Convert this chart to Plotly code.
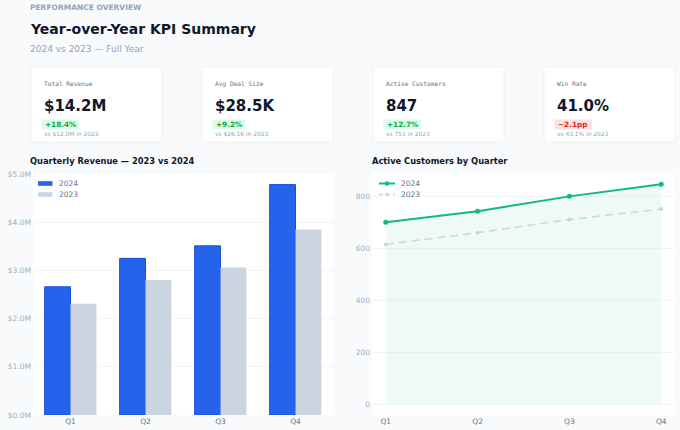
import plotly.graph_objects as go

W, H = 680, 430

quarters = ["Q1", "Q2", "Q3", "Q4"]
rev_2024 = [2.66, 3.25, 3.51, 4.78]
rev_2023 = [2.31, 2.80, 3.06, 3.85]
cust_2024 = [700, 743, 800, 847]
cust_2023 = [615, 660, 711, 751]

kpi_labels = ["Total Revenue", "Avg Deal Size", "Active Customers", "Win Rate"]
kpi_values = ["$14.2M", "$28.5K", "847", "41.0%"]
kpi_deltas = ["+18.4%", "+9.2%", "+12.7%", "\u22122.1pp"]
kpi_positive = [True, True, True, False]
kpi_prev = ["vs $12.0M in 2023", "vs $26.1K in 2023", "vs 751 in 2023", "vs 43.1% in 2023"]

series_names = ["2024", "2023"]

FONT = "DejaVu Sans"
MONO = "DejaVu Sans Mono"

BLUE = "#2563eb"
BLUE_EDGE = "#1d4ed8"
GREY = "#cbd5e1"
GREEN = "#10b981"


def px(x):
    return x / W


def py(y):
    return 1 - y / H


fig = go.Figure()

fig.add_trace(go.Bar(
    x=quarters, y=rev_2024, name=series_names[0], xaxis="x", yaxis="y",
    marker=dict(color=BLUE, line=dict(color=BLUE_EDGE, width=1)),
))
fig.add_trace(go.Bar(
    x=quarters, y=rev_2023, name=series_names[1], xaxis="x", yaxis="y",
    marker=dict(color=GREY, line=dict(color=GREY, width=0)),
))
fig.add_trace(go.Scatter(
    x=quarters, y=cust_2024, name=series_names[0], xaxis="x2", yaxis="y2",
    mode="lines+markers", line=dict(color=GREEN, width=2),
    marker=dict(size=5, color=GREEN),
    fill="tozeroy", fillcolor="rgba(16,185,129,0.07)",
))
fig.add_trace(go.Scatter(
    x=quarters, y=cust_2023, name=series_names[1], xaxis="x2", yaxis="y2",
    mode="lines+markers", line=dict(color=GREY, width=1.5, dash="8px,5px"),
    marker=dict(size=4, color=GREY),
))

tickfont = dict(family=FONT, size=7.5, color="#a0aec0")
xtickfont = dict(family=FONT, size=7.5, color="#64748b")

common_x = dict(showgrid=False, zeroline=False, showline=False, ticks="",
                automargin=False, tickfont=xtickfont, ticklabelstandoff=0)
common_y = dict(gridcolor="#f1f5f9", zeroline=False, showline=False, ticks="",
                automargin=False, tickfont=tickfont, ticklabelstandoff=1)

fig.update_layout(
    width=W, height=H,
    margin=dict(l=0, r=0, t=0, b=0),
    paper_bgcolor="#f8fafc",
    plot_bgcolor="#ffffff",
    font=dict(family=FONT),
    barmode="group", bargap=0.31, bargroupgap=0,
    showlegend=False,
    xaxis=dict(domain=[px(33), px(333)], anchor="y", range=[-0.5, 3.5], **common_x),
    yaxis=dict(domain=[py(415), py(174)], anchor="x", range=[0, 5.0],
               dtick=1, tickformat=".1f", tickprefix="$", ticksuffix="M", **common_y),
    xaxis2=dict(domain=[px(372), px(675)], anchor="y2", range=[-0.15, 3.15], **common_x),
    yaxis2=dict(domain=[py(415), py(173)], anchor="x2", range=[-42, 890],
                dtick=200, **common_y),
)

annotations = []
shapes = []


def text(t, x, y, size, color, family=FONT, anchor="left"):
    annotations.append(dict(text=t, x=px(x - 2), y=py(y), xref="paper", yref="paper",
                            xanchor=anchor, yanchor="middle", showarrow=False,
                            font=dict(family=family, size=size, color=color)))


text("<b>PERFORMANCE OVERVIEW</b>", 30, 7, 7.5, "#94a3b8")
text("<b>Year-over-Year KPI Summary</b>", 30, 29, 14, "#0f172a")
text("2024 vs 2023 \u2014 Full Year", 30, 49, 9, "#94a3b8")
text("<b>Quarterly Revenue \u2014 2023 vs 2024</b>", 30, 161, 8.3, "#0f172a")
text("<b>Active Customers by Quarter</b>", 372, 161, 8.3, "#0f172a")

# legends (drawn manually for compact spacing)
leg_y = [183.5, 194.5]
bar_cols = [BLUE, GREY]
for i in range(2):
    shapes.append(dict(type="rect", xref="paper", yref="paper",
                       x0=px(38), x1=px(52.5), y0=py(leg_y[i] + 2.3), y1=py(leg_y[i] - 2.3),
                       fillcolor=bar_cols[i], line=dict(width=0)))
    text(series_names[i], 58.5, leg_y[i], 7.5, "#64748b")
line_cols = [GREEN, GREY]
for i in range(2):
    shapes.append(dict(type="line", xref="paper", yref="paper",
                       x0=px(379), x1=px(395), y0=py(leg_y[i]), y1=py(leg_y[i]),
                       line=dict(color=line_cols[i], width=2 if i == 0 else 1.5,
                                 dash="solid" if i == 0 else "4px,3px")))
    r = 2.2 if i == 0 else 1.8
    shapes.append(dict(type="circle", xref="paper", yref="paper",
                       x0=px(387 - r), x1=px(387 + r), y0=py(leg_y[i] + r), y1=py(leg_y[i] - r),
                       fillcolor=line_cols[i], line=dict(width=0)))
    text(series_names[i], 401, leg_y[i], 7.5, "#64748b")

card_x0 = [31, 202, 373, 544]
card_w = 131
for i in range(4):
    x0 = card_x0[i]
    shapes.append(dict(type="rect", xref="paper", yref="paper",
                       x0=px(x0), x1=px(x0 + card_w), y0=py(142), y1=py(67),
                       fillcolor="#ffffff", line=dict(color="#eef2f6", width=1),
                       layer="below"))
    text(kpi_labels[i], x0 + 13, 84, 6.2, "#64748b", family=MONO)
    text("<b>" + kpi_values[i] + "</b>", x0 + 12.5, 106.5, 15, "#0f172a")
    pos = kpi_positive[i]
    bw = 5.1 * len(kpi_deltas[i]) + 7
    shapes.append(dict(type="rect", xref="paper", yref="paper",
                       x0=px(x0 + 10.5), x1=px(x0 + 10.5 + bw), y0=py(129.5), y1=py(119.5),
                       fillcolor="#dcfce7" if pos else "#fee2e2", line=dict(width=0)))
    text("<b>" + kpi_deltas[i] + "</b>", x0 + 13.5, 124.5, 7.3,
         "#16a34a" if pos else "#dc2626")
    text(kpi_prev[i], x0 + 13, 134, 5.9, "#94a3b8")

fig.update_layout(annotations=annotations, shapes=shapes)

fig.write_html("out.html", config={"displayModeBar": False},
               post_script="document.body.style.margin='0';")
